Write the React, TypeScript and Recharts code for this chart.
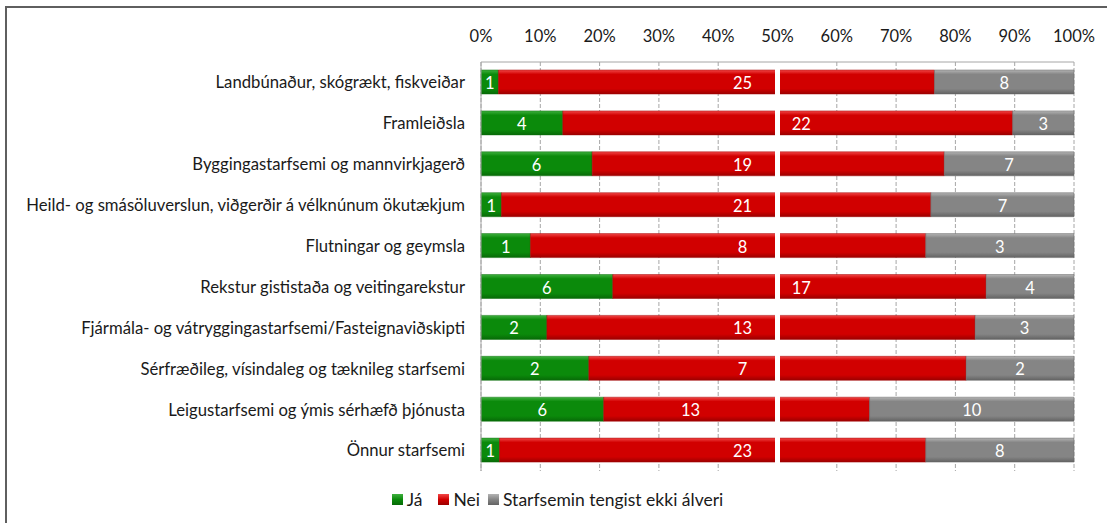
import React from 'react';
import { BarChart, Bar, XAxis, YAxis, CartesianGrid, ReferenceLine, Legend } from 'recharts';

const categories = [
  'Landbúnaður, skógrækt, fiskveiðar',
  'Framleiðsla',
  'Byggingastarfsemi og mannvirkjagerð',
  'Heild- og smásöluverslun, viðgerðir á vélknúnum ökutækjum',
  'Flutningar og geymsla',
  'Rekstur gististaða og veitingarekstur',
  'Fjármála- og vátryggingastarfsemi/Fasteignaviðskipti',
  'Sérfræðileg, vísindaleg og tæknileg starfsemi',
  'Leigustarfsemi og ýmis sérhæfð þjónusta',
  'Önnur starfsemi',
];
const jaValues = [1, 4, 6, 1, 1, 6, 2, 2, 6, 1];
const neiValues = [25, 22, 19, 21, 8, 17, 13, 7, 13, 23];
const otherValues = [8, 3, 7, 7, 3, 4, 3, 2, 10, 8];
const xTicks = [0, 0.1, 0.2, 0.3, 0.4, 0.5, 0.6, 0.7, 0.8, 0.9, 1];
const seriesNames = ['Já', 'Nei', 'Starfsemin tengist ekki álveri'];
const seriesValues = [jaValues, neiValues, otherValues];

// layout: where the "Nei" label sits relative to the 50% break
const neiLabelSpot = ['left', 'right', 'left', 'left', 'left', 'right', 'left', 'left', 'mid', 'left'];

const data = categories.map((name, i) => ({
  name,
  ja: jaValues[i],
  nei: neiValues[i],
  other: otherValues[i],
}));

const FONT = 'Lato, "Open Sans", sans-serif';

const makeCenterLabel = (series: number[]) => (props: any) => {
  const { x, y, width, height, index } = props;
  return (
    <text x={x + width / 2} y={y + height / 2 + 1} fill="#fff" fontSize={16.5} fontFamily={FONT}
      textAnchor="middle" dominantBaseline="central">{series[index]}</text>
  );
};

const neiLabel = (props: any) => {
  const { x, y, width, height, index } = props;
  const total = jaValues[index] + neiValues[index] + otherValues[index];
  const start = jaValues[index] / total;
  const end = (jaValues[index] + neiValues[index]) / total;
  const pxPer = width / (end - start);
  const at = (f: number) => x + (f - start) * pxPer;
  const spot = neiLabelSpot[index];
  let cx = at(0.441);
  if (spot === 'right') cx = at(0.54);
  if (spot === 'mid') cx = at((start + 0.5) / 2);
  return (
    <text x={cx} y={y + height / 2 + 1} fill="#fff" fontSize={16.5} fontFamily={FONT}
      textAnchor="middle" dominantBaseline="central">{neiValues[index]}</text>
  );
};

const legendGrads = ['gJa', 'gNei', 'gOther'];

const LegendContent = () => (
  <div style={{ display: 'flex', justifyContent: 'center', alignItems: 'center', marginLeft: 8, fontFamily: FONT, fontSize: 17.5, color: '#1a1a1a' }}>
    {seriesNames.map((n, i) => (
      <div key={n} style={{ display: 'flex', alignItems: 'center', marginRight: i === 0 ? 16 : i === 1 ? 8 : 0 }}>
        <svg width={11} height={11} style={{ marginRight: 4 }}>
          <rect x={0} y={0} width={11} height={11} fill={`url(#${legendGrads[i]}L)`} />
        </svg>
        <span>{n}</span>
      </div>
    ))}
  </div>
);

const Gap = (p: any) => {
  const x = p.x1 ?? 0;
  const y1 = Math.min(p.y1, p.y2);
  const y2 = Math.max(p.y1, p.y2);
  return <rect x={x - 2.5} y={y1 - 2} width={5} height={y2 - y1 + 2} fill="#fff" />;
};

export default function App() {
  return (
    <div style={{ position: 'absolute', left: 0, top: 0, width: 1107, height: 523, overflow: 'hidden', background: '#fff' }}>
      <div style={{ position: 'absolute', left: 5, top: 6, width: 1200, height: 600, borderTop: '2px solid #5f5f5f', borderLeft: '2px solid #5f5f5f' }} />
      <div style={{ position: 'absolute', left: 0, top: 0 }}>
        <BarChart width={1107} height={523} data={data} layout="vertical" stackOffset="expand"
          margin={{ top: 0, right: 33, bottom: 28, left: 0 }} barSize={24}>
          <defs>
            {[
              ['gJa', '#3fb03f', '#0b8a0b', '#076a07'],
              ['gNei', '#f24848', '#d10000', '#9c0000'],
              ['gOther', '#b4b4b4', '#858585', '#636363'],
            ].map(([id, a, b, c]) => (
              <React.Fragment key={id}>
                <linearGradient id={id} x1="0" y1="0" x2="0" y2="1">
                  <stop offset="0" stopColor={a} />
                  <stop offset="0.18" stopColor={b} />
                  <stop offset="0.78" stopColor={b} />
                  <stop offset="1" stopColor={c} />
                </linearGradient>
                <linearGradient id={id + 'L'} x1="0" y1="0" x2="0" y2="1">
                  <stop offset="0" stopColor={a} />
                  <stop offset="0.5" stopColor={b} />
                  <stop offset="1" stopColor={c} />
                </linearGradient>
              </React.Fragment>
            ))}
          </defs>
          <CartesianGrid horizontal={false} stroke="#a6a6a6" strokeDasharray="4 2" />
          <XAxis type="number" orientation="top" domain={[0, 1]} ticks={xTicks} height={62}
            tickFormatter={(v: number) => `${Math.round(v * 100)}%`}
            axisLine={{ stroke: '#a6a6a6' }} tickLine={false}
            tick={{ fill: '#1a1a1a', fontSize: 16.5, fontFamily: FONT, dy: -12 }} interval={0} />
          <YAxis type="category" dataKey="name" width={481} axisLine={{ stroke: '#a6a6a6' }} tickLine={false}
            tick={{ fill: '#1a1a1a', fontSize: 16.7, fontFamily: FONT, dx: -8 }} interval={0} />
          <Bar dataKey="ja" name={seriesNames[0]} stackId="s" fill="url(#gJa)" stroke="#0a6e0a" strokeWidth={0.5}
            isAnimationActive={false} label={makeCenterLabel(seriesValues[0])} />
          <Bar dataKey="nei" name={seriesNames[1]} stackId="s" fill="url(#gNei)" stroke="#a00000" strokeWidth={0.5}
            isAnimationActive={false} label={neiLabel} />
          <Bar dataKey="other" name={seriesNames[2]} stackId="s" fill="url(#gOther)" stroke="#666" strokeWidth={0.5}
            isAnimationActive={false} label={makeCenterLabel(seriesValues[2])} />
          <ReferenceLine x={0.5} stroke="#fff" shape={Gap} />
          <Legend verticalAlign="bottom" content={LegendContent}
            wrapperStyle={{ left: 0, width: 1107, top: 489, height: 24 }} />
        </BarChart>
      </div>
    </div>
  );
}
